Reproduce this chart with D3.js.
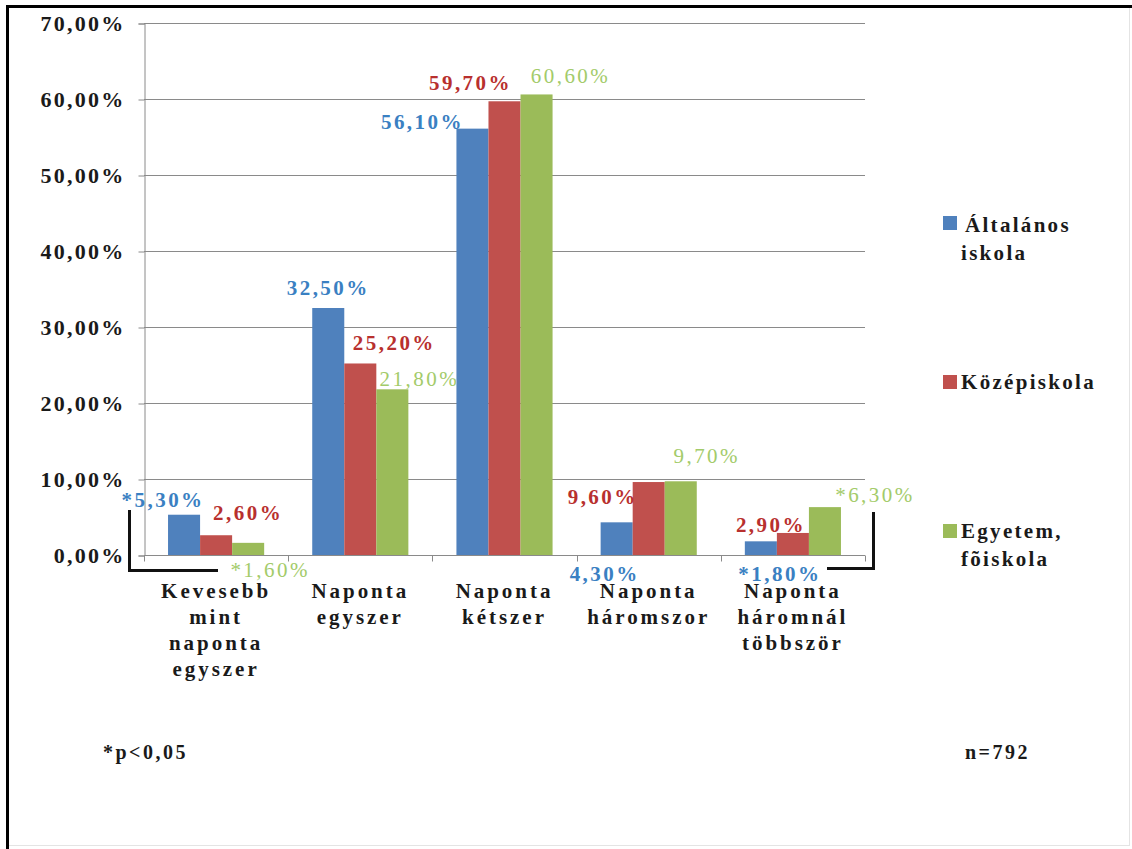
<!DOCTYPE html>
<html>
<head>
<meta charset="utf-8">
<script src="https://cdn.jsdelivr.net/npm/d3@7/dist/d3.min.js"></script>
</head>
<body style="margin:0; background:#fff">
<svg id="chart" width="1132" height="849" style="display:block"></svg>
<script>
// Categories (x axis) – each label split into lines
const categories = [
  ["Kevesebb", "mint", "naponta", "egyszer"],
  ["Naponta", "egyszer"],
  ["Naponta", "kétszer"],
  ["Naponta", "háromszor"],
  ["Naponta", "háromnál", "többször"]
];

// Series (percent values per category)
const seriesNames = ["Általános iskola", "Középiskola", "Egyetem, fõiskola"];
const altalanos   = [5.3, 32.5, 56.1, 4.3, 1.8];
const kozep       = [2.6, 25.2, 59.7, 9.6, 2.9];
const egyetem     = [1.6, 21.8, 60.6, 9.7, 6.3];

// Significance markers (*p<0,05)
const sigAltalanos = [true, false, false, false, true];
const sigKozep     = [false, false, false, false, false];
const sigEgyetem   = [true, false, false, false, true];

// Y axis ticks
const yTicks = [0, 10, 20, 30, 40, 50, 60, 70];

const FONT = '"Liberation Serif", "Times New Roman", serif';
const colors = ["#4F81BD", "#C0504D", "#9BBB59"];
const labelColors = ["#3A80C2", "#B8302E", "#A3CB6A"];
const labelWeights = ["bold", "bold", "normal"];

// Label placement offsets from the top centre of each bar [dx, dy]
const labelOffsets = [
  [[-21, -15], [0, -20], [-50, -7], [-12, 51], [19, 32]],
  [[32, -23], [34, -21], [-34, -19], [-46, 15], [-22, -8]],
  [[22, 27], [27, -11], [34, -19], [26, -26], [50, -12]]
];

const values = [altalanos, kozep, egyetem];
const sig = [sigAltalanos, sigKozep, sigEgyetem];

const svg = d3.select("#chart").style("font-family", FONT);
const plot = { left: 144, right: 865, top: 23, bottom: 555 };

// Styled text helper
function txt(parent, size, weight, fill) {
  return parent.append("text")
    .style("font-family", FONT).style("font-size", size + "px")
    .style("font-weight", weight).attr("fill", fill);
}

// Letter spacing that widens a sample string to a given width
function spacingFor(sample, size, weight, target) {
  const t = txt(svg, size, weight, "#000").text(sample);
  const w = t.node().getComputedTextLength();
  t.remove();
  return Math.max(0, (target - w) / sample.length);
}
const lsAxis   = spacingFor("70,00%", 22, "bold", 85);
const lsCat    = spacingFor("Kevesebb", 21, "bold", 110);
const lsLegend = spacingFor("Középiskola", 21, "bold", 135);
const lsLabel  = spacingFor("32,50%", 21, "bold", 83);
const lsNote   = spacingFor("*p<0,05", 20, "bold", 85);

// Outer frame: heavy top/left, light right/bottom
svg.append("line").attr("x1", 6).attr("x2", 1132).attr("y1", 6.5).attr("y2", 6.5)
  .attr("stroke", "#000").attr("stroke-width", 3);
svg.append("line").attr("x1", 7.5).attr("x2", 7.5).attr("y1", 5).attr("y2", 849)
  .attr("stroke", "#000").attr("stroke-width", 3);
svg.append("line").attr("x1", 1129.5).attr("x2", 1129.5).attr("y1", 8).attr("y2", 846)
  .attr("stroke", "#e4e4e4").attr("stroke-width", 1);
svg.append("line").attr("x1", 9).attr("x2", 1130).attr("y1", 845.5).attr("y2", 845.5)
  .attr("stroke", "#e4e4e4").attr("stroke-width", 1);

const x0 = d3.scaleBand()
  .domain(d3.range(categories.length))
  .range([plot.left, plot.right])
  .paddingInner(0).paddingOuter(0);

const x1 = d3.scaleBand()
  .domain(d3.range(seriesNames.length))
  .range([0, x0.bandwidth()])
  .paddingOuter(0.75).paddingInner(0);

const y = d3.scaleLinear().domain([0, 70]).range([plot.bottom, plot.top]);

const fmt = v => v.toFixed(2).replace(".", ",") + "%";

// Gridlines
svg.append("g").selectAll("line").data(yTicks.filter(t => t > 0)).join("line")
  .attr("x1", plot.left).attr("x2", plot.right)
  .attr("y1", d => Math.round(y(d)) + 0.5).attr("y2", d => Math.round(y(d)) + 0.5)
  .attr("stroke", "#8a8a8a").attr("stroke-width", 1);

// Y axis
const yAxis = svg.append("g")
  .attr("transform", `translate(${plot.left + 0.5},0.5)`)
  .call(d3.axisLeft(y).tickValues(yTicks).tickSize(6).tickPadding(13)
    .tickFormat(d => fmt(d)));
yAxis.attr("font-family", null).attr("font-size", null);
yAxis.select(".domain").attr("stroke", "#8a8a8a");
yAxis.selectAll(".tick line").attr("stroke", "#8a8a8a");
yAxis.selectAll(".tick text")
  .style("font-family", FONT).style("font-size", "22px").style("font-weight", "bold")
  .attr("letter-spacing", lsAxis).attr("fill", "#1a1a1a");

// Bars
values.forEach((vals, s) => {
  svg.append("g").selectAll("rect").data(vals).join("rect")
    .attr("x", (d, i) => x0(i) + x1(s))
    .attr("y", d => y(d))
    .attr("width", x1.bandwidth())
    .attr("height", d => y(0) - y(d))
    .attr("fill", colors[s]);
});

// X axis
const xAxis = svg.append("g").attr("transform", `translate(0,${plot.bottom + 0.5})`);
xAxis.append("line").attr("x1", plot.left).attr("x2", plot.right)
  .attr("stroke", "#8a8a8a");
xAxis.selectAll("line.tk").data(d3.range(categories.length + 1)).join("line")
  .attr("class", "tk")
  .attr("x1", i => Math.round(plot.left + i * x0.bandwidth()) + 0.5)
  .attr("x2", i => Math.round(plot.left + i * x0.bandwidth()) + 0.5)
  .attr("y1", 0).attr("y2", 6).attr("stroke", "#8a8a8a");

// Category labels
categories.forEach((lines, i) => {
  const t = txt(svg, 21, "bold", "#1a1a1a")
    .attr("text-anchor", "middle")
    .attr("letter-spacing", lsCat);
  lines.forEach((ln, j) => {
    t.append("tspan")
      .attr("x", x0(i) + x0.bandwidth() / 2)
      .attr("y", 598 + j * 26)
      .text(ln);
  });
});

// Significance brackets
const bracket = "#111";
svg.append("path")
  .attr("d", `M129.5,510 V570.5 H218`)
  .attr("fill", "none").attr("stroke", bracket).attr("stroke-width", 3);
svg.append("path")
  .attr("d", `M827,568.5 H873.5 V512`)
  .attr("fill", "none").attr("stroke", bracket).attr("stroke-width", 3);

// Data labels
values.forEach((vals, s) => {
  const g = svg.append("g");
  vals.forEach((d, i) => {
    txt(g, 21, labelWeights[s], labelColors[s])
      .attr("x", x0(i) + x1(s) + x1.bandwidth() / 2 + labelOffsets[s][i][0])
      .attr("y", y(d) + labelOffsets[s][i][1])
      .attr("dy", "0.35em")
      .attr("text-anchor", "middle")
      .attr("letter-spacing", lsLabel)
      .text((sig[s][i] ? "*" : "") + fmt(d));
  });
});

// Legend
const legend = [
  { y: 216, lines: [["Általános", 965], ["iskola", 961]], base: 232 },
  { y: 375, lines: [["Középiskola", 961]], base: 389 },
  { y: 524, lines: [["Egyetem,", 961], ["fõiskola", 961]], base: 538 }
];
legend.forEach((L, s) => {
  svg.append("rect").attr("x", 943).attr("y", L.y).attr("width", 14).attr("height", 14)
    .attr("fill", colors[s]);
  L.lines.forEach(([label, lx], j) => {
    txt(svg, 21, "bold", "#1a1a1a")
      .attr("x", lx).attr("y", L.base + j * 28)
      .attr("letter-spacing", lsLegend)
      .text(label);
  });
});

// Footnotes
txt(svg, 20, "bold", "#1a1a1a").attr("x", 103).attr("y", 759)
  .attr("letter-spacing", lsNote).text("*p<0,05");
txt(svg, 20, "bold", "#1a1a1a").attr("x", 965).attr("y", 759)
  .attr("letter-spacing", lsNote).text("n=792");
</script>
</body>
</html>
